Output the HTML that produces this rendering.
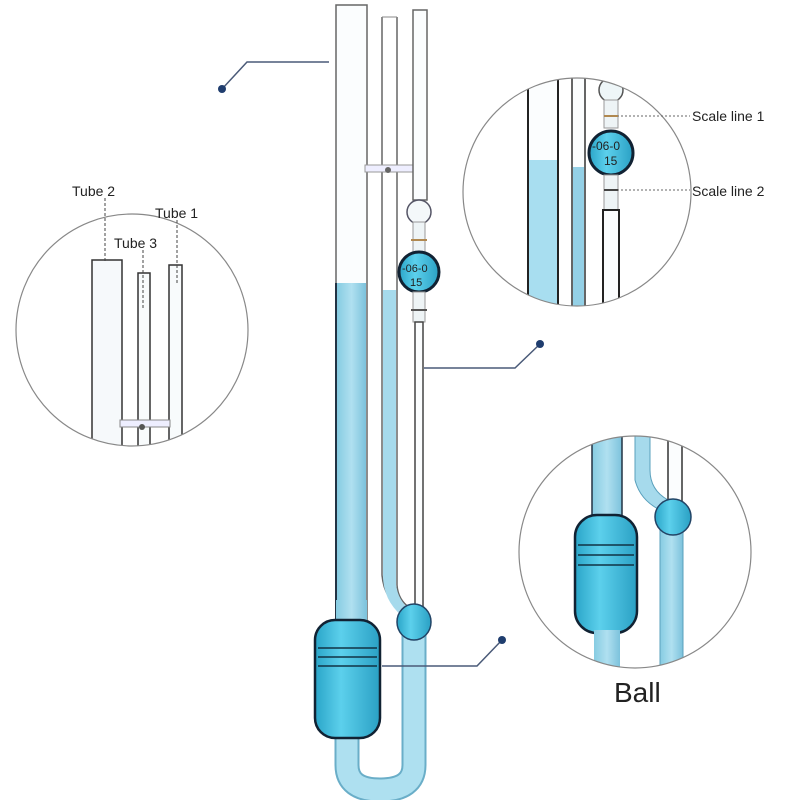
<!DOCTYPE html>
<html><head><meta charset="utf-8"><style>
body{margin:0;background:#fff}
svg{display:block}
text{font-family:"Liberation Sans",sans-serif;fill:#222}
</style></head><body>
<svg width="800" height="800" viewBox="0 0 800 800" xmlns="http://www.w3.org/2000/svg">
<defs>
<linearGradient id="lb" x1="0" x2="1"><stop offset="0" stop-color="#86cce2"/><stop offset=".5" stop-color="#b0e0f0"/><stop offset="1" stop-color="#7cc2dc"/></linearGradient>
<linearGradient id="db" x1="0" x2="1"><stop offset="0" stop-color="#2aa5c8"/><stop offset=".4" stop-color="#5cd0ec"/><stop offset="1" stop-color="#2aa0c4"/></linearGradient>
<clipPath id="c1"><circle cx="132" cy="330" r="116"/></clipPath>
<clipPath id="c2"><circle cx="577" cy="192" r="114"/></clipPath>
<clipPath id="c3"><circle cx="635" cy="552" r="116"/></clipPath>
</defs>

<path d="M347 735 L347 765 Q347 790 380 790 Q414 790 414 765 L414 630" fill="none" stroke="#6aaec8" stroke-width="25"/>
<path d="M347 735 L347 765 Q347 790 380 790 Q414 790 414 765 L414 630" fill="none" stroke="#aee0f0" stroke-width="21"/>
<rect x="336" y="5" width="31" height="620" fill="#fbfdfe" stroke="#666" stroke-width="1.5"/>
<rect x="337" y="283" width="29" height="342" fill="url(#lb)"/>
<line x1="336" y1="283" x2="336" y2="625" stroke="#234" stroke-width="2"/>
<path d="M382 17 L382 575 Q384 600 405 612" fill="none" stroke="#666" stroke-width="1.5"/>
<path d="M397 17 L397 585 Q398 600 410 608" fill="none" stroke="#666" stroke-width="1.5"/>
<path d="M383 290 L396 290 L396 585 Q398 600 410 610 L402 616 Q383 600 383 575Z" fill="#a6daec"/>
<line x1="382" y1="17" x2="397" y2="17" stroke="#888"/>
<rect x="365" y="165" width="48" height="7" fill="#eef" stroke="#999" stroke-width="1"/>
<circle cx="388" cy="170" r="3" fill="#666"/>
<rect x="413" y="10" width="14" height="190" fill="#fbfdfe" stroke="#666" stroke-width="1.5"/>
<circle cx="419" cy="212" r="12" fill="#f4f8fa" stroke="#556" stroke-width="1.5"/>
<rect x="413" y="222" width="12" height="32" fill="#eef4f6" stroke="#999"/>
<line x1="411" y1="240" x2="427" y2="240" stroke="#b08850" stroke-width="2"/>
<circle cx="419" cy="272" r="20" fill="url(#db)" stroke="#123" stroke-width="3"/>
<text x="402" y="272" font-size="11">-06-0</text>
<text x="410" y="286" font-size="11">15</text>
<rect x="413" y="292" width="12" height="30" fill="#eef4f6" stroke="#999"/>
<line x1="411" y1="310" x2="427" y2="310" stroke="#555" stroke-width="2"/>
<rect x="415" y="322" width="8" height="285" fill="#fbfdfe" stroke="#444" stroke-width="1.5"/>
<ellipse cx="414" cy="622" rx="17" ry="18" fill="url(#db)" stroke="#246" stroke-width="1.5"/>
<rect x="336" y="600" width="31" height="25" fill="url(#lb)"/>
<rect x="315" y="620" width="65" height="118" rx="20" fill="url(#db)" stroke="#123" stroke-width="2.5"/>
<line x1="318" y1="648" x2="377" y2="648" stroke="#134" stroke-width="1.5"/>
<line x1="318" y1="657" x2="377" y2="657" stroke="#134" stroke-width="1.5"/>
<line x1="318" y1="666" x2="377" y2="666" stroke="#134" stroke-width="1.5"/>

<g stroke="#4a5a78" stroke-width="1.5" fill="none">
<polyline points="222,89 247,62 329,62"/>
<polyline points="540,344 515,368 424,368"/>
<polyline points="502,640 477,666 382,666"/>
</g>
<g fill="#1f3d6e"><circle cx="222" cy="89" r="4"/><circle cx="540" cy="344" r="4"/><circle cx="502" cy="640" r="4"/></g>

<g clip-path="url(#c1)">
<rect x="92" y="260" width="30" height="200" fill="#f6f9fb" stroke="#333" stroke-width="1.5"/>
<rect x="138" y="273" width="12" height="190" fill="#f8fbfc" stroke="#333" stroke-width="1.5"/>
<rect x="169" y="265" width="13" height="200" fill="#f8fbfc" stroke="#333" stroke-width="1.5"/>
<rect x="120" y="420" width="50" height="7" fill="#eef" stroke="#888"/>
<circle cx="142" cy="427" r="3" fill="#555"/>
</g>
<circle cx="132" cy="330" r="116" fill="none" stroke="#888" stroke-width="1.2"/>
<g stroke="#444" stroke-dasharray="3,2" stroke-width="1">
<line x1="105" y1="198" x2="105" y2="262"/>
<line x1="143" y1="250" x2="143" y2="310"/>
<line x1="177" y1="220" x2="177" y2="285"/>
</g>
<text x="72" y="196" font-size="14">Tube 2</text>
<text x="155" y="218" font-size="14">Tube 1</text>
<text x="114" y="248" font-size="14">Tube 3</text>

<g clip-path="url(#c2)">
<rect x="528" y="60" width="30" height="260" fill="#fbfdfe" stroke="#222" stroke-width="2"/>
<rect x="529" y="160" width="28" height="160" fill="#a8def0"/>
<rect x="572" y="60" width="13" height="260" fill="#fbfdfe" stroke="#333" stroke-width="1.5"/>
<rect x="573" y="167" width="11" height="153" fill="#94d0e6"/>
<circle cx="611" cy="90" r="12" fill="#eef6f8" stroke="#555" stroke-width="1.5"/>
<rect x="604" y="100" width="14" height="28" fill="#eef4f6" stroke="#999"/>
<circle cx="611" cy="153" r="22" fill="url(#db)" stroke="#123" stroke-width="3"/>
<text x="592" y="150" font-size="12">-06-0</text>
<text x="604" y="165" font-size="12">15</text>
<rect x="604" y="175" width="14" height="40" fill="#eef4f6" stroke="#999"/>
<rect x="603" y="210" width="16" height="110" fill="#fbfdfe" stroke="#222" stroke-width="2"/>
</g>
<circle cx="577" cy="192" r="114" fill="none" stroke="#888" stroke-width="1.2"/>
<g stroke="#666" stroke-dasharray="2,2" stroke-width="1">
<line x1="605" y1="116" x2="690" y2="116"/>
<line x1="605" y1="190" x2="690" y2="190"/>
</g>
<line x1="604" y1="116" x2="618" y2="116" stroke="#b08850" stroke-width="2"/>
<line x1="604" y1="190" x2="618" y2="190" stroke="#444" stroke-width="2"/>
<text x="692" y="121" font-size="14">Scale line 1</text>
<text x="692" y="196" font-size="14">Scale line 2</text>

<g clip-path="url(#c3)">
<rect x="592" y="430" width="30" height="90" fill="url(#lb)" stroke="#234" stroke-width="1.5"/>
<rect x="575" y="515" width="62" height="118" rx="22" fill="url(#db)" stroke="#123" stroke-width="2.5"/>
<line x1="578" y1="545" x2="634" y2="545" stroke="#134" stroke-width="1.5"/>
<line x1="578" y1="555" x2="634" y2="555" stroke="#134" stroke-width="1.5"/>
<line x1="578" y1="565" x2="634" y2="565" stroke="#134" stroke-width="1.5"/>
<rect x="594" y="630" width="26" height="50" fill="url(#lb)"/>
<path d="M635 430 L635 480 Q640 500 660 510 L668 500 Q650 490 650 470 L650 430Z" fill="#a6daec" stroke="#5aa0bc"/>
<rect x="668" y="430" width="14" height="80" fill="#fbfdfe" stroke="#333" stroke-width="1.5"/>
<rect x="660" y="520" width="23" height="160" fill="url(#lb)" stroke="#5aa0bc"/>
<ellipse cx="673" cy="517" rx="18" ry="18" fill="url(#db)" stroke="#246" stroke-width="1.5"/>
</g>
<circle cx="635" cy="552" r="116" fill="none" stroke="#888" stroke-width="1.2"/>
<text x="614" y="702" font-size="28" fill="#111">Ball</text>
</svg>
</body></html>
